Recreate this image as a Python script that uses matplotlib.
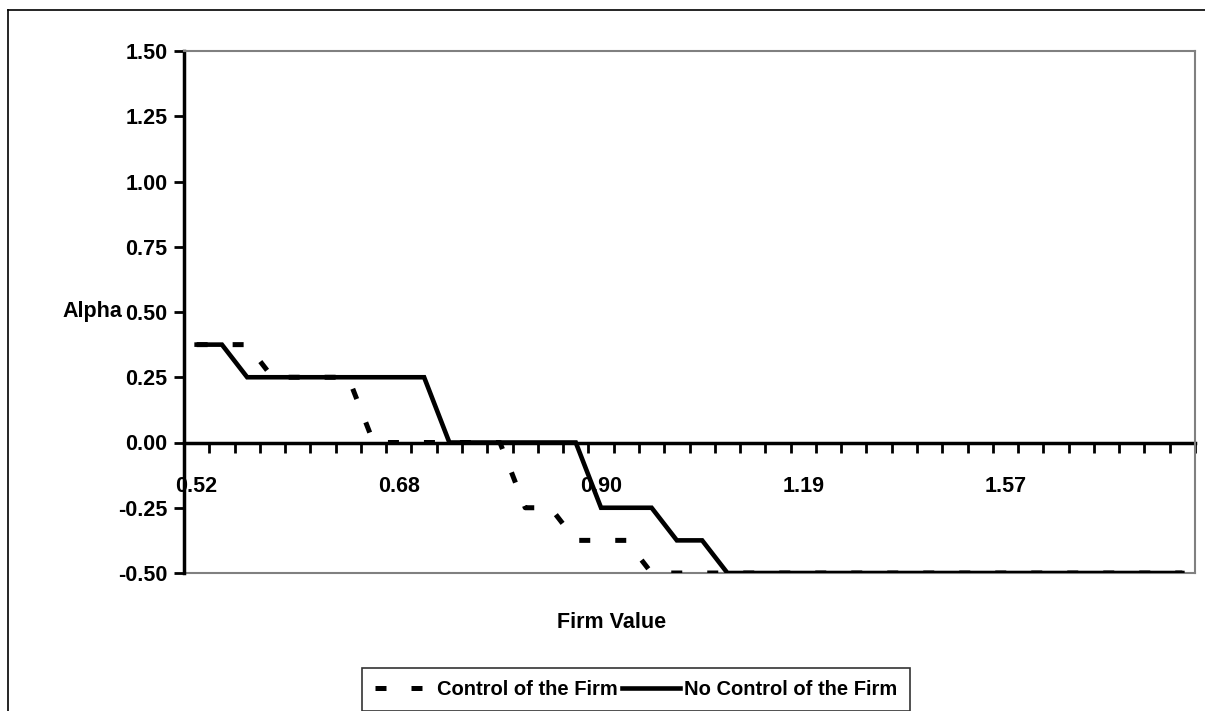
import numpy as np
import matplotlib.pyplot as plt
from matplotlib.lines import Line2D

plt.rcParams['font.family'] = ['Liberation Sans', 'DejaVu Sans']
plt.rcParams['font.weight'] = 'bold'

# 40 firm value categories, only every 8th one is labelled
n_categories = 40
tick_labels = ['0.52', '0.68', '0.90', '1.19', '1.57']
label_every = 8

control = [0.375, 0.375, 0.375,
           0.25, 0.25, 0.25, 0.25,
           0.0, 0.0, 0.0, 0.0, 0.0, 0.0,
           -0.25, -0.25,
           -0.375, -0.375, -0.375] + [-0.5] * 22

no_control = [0.375, 0.375,
              0.25, 0.25, 0.25, 0.25, 0.25, 0.25, 0.25, 0.25,
              0.0, 0.0, 0.0, 0.0, 0.0, 0.0,
              -0.25, -0.25, -0.25,
              -0.375, -0.375] + [-0.5] * 19

y_ticks = [-0.5, -0.25, 0.0, 0.25, 0.5, 0.75, 1.0, 1.25, 1.5]

W, H = 1205, 711
fs = 15.5
fig = plt.figure(figsize=(W / 100, H / 100), dpi=100)
ax = fig.add_axes([184 / W, 1 - 573 / H, 1011 / W, 522 / H])

x = np.arange(n_categories) + 0.5
ax.plot(x, control, color='black', lw=3.6, linestyle=(0, (2.2, 5.0)),
        dash_capstyle='butt', label='Control of the Firm', zorder=3)
ax.plot(x, no_control, color='black', lw=3.3, solid_joinstyle='miter',
        label='No Control of the Firm', zorder=4)

ax.set_xlim(0, n_categories)
ax.set_ylim(-0.5, 1.5)

# axes frame: gray plot area, black value axis, category axis at zero
for s in ['top', 'right']:
  ax.spines[s].set_color('#808080')
  ax.spines[s].set_linewidth(1.5)
ax.spines['left'].set_linewidth(2.5)
ax.spines['bottom'].set_position(('data', 0))
ax.spines['bottom'].set_linewidth(2.5)
ax.spines['bottom'].set_zorder(2)
ax.plot([0, 1], [0, 0], transform=ax.transAxes, color='#808080', lw=1.5, clip_on=False)

ax.set_yticks(y_ticks)
ax.set_yticklabels(['%.2f' % v for v in y_ticks])
ax.tick_params(axis='y', direction='out', length=7, width=2, labelsize=fs, pad=5)

ax.set_xticks(np.arange(n_categories + 1))
ax.set_xticklabels([])
ax.tick_params(axis='x', which='major', direction='out', length=7, width=2)
ax.set_xticks(np.arange(0, n_categories, label_every) + 0.5, minor=True)
ax.set_xticklabels(tick_labels, minor=True)
ax.tick_params(axis='x', which='minor', length=0, labelsize=fs, pad=24)

ax.set_ylabel('Alpha', rotation=0, fontsize=fs, fontweight='bold', va='center', ha='center')
ax.yaxis.set_label_coords(-0.091, 0.5)

fig.text(612 / W, 1 - 622 / H, 'Firm Value', fontsize=fs, fontweight='bold',
         ha='center', va='center')

leg = fig.legend(loc='upper center', bbox_to_anchor=(636 / W, 1 - 668 / H), ncol=2,
                 fontsize=14.5, frameon=True, fancybox=False, edgecolor='black',
                 handlelength=2.9, handletextpad=0.2, columnspacing=0.2,
                 borderpad=0.6, borderaxespad=0)
leg.get_frame().set_linewidth(1.2)

# outer chart border
fig.add_artist(Line2D([8 / W, 8 / W], [0, 1 - 10 / H], color='black', lw=1.2))
fig.add_artist(Line2D([8 / W, 1], [1 - 10 / H, 1 - 10 / H], color='black', lw=1.2))

fig.savefig('out.png', dpi=100)
